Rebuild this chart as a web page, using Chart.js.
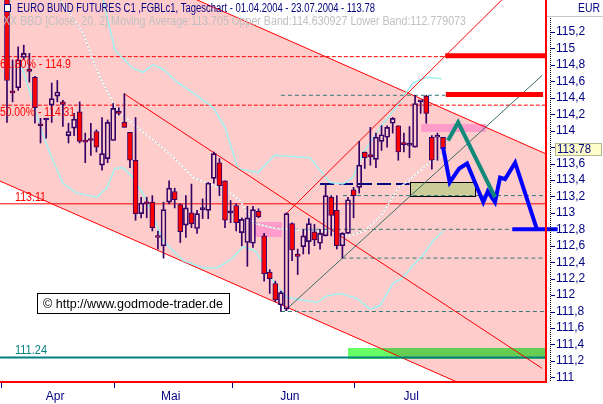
<!DOCTYPE html>
<html>
<head>
<meta charset="utf-8">
<script src="https://cdn.jsdelivr.net/npm/chart.js@4.4.1/dist/chart.umd.min.js"></script>
<style>
  body { margin: 0; background: #fff; }
  canvas { display: block; }
</style>
</head>
<body>
<canvas id="chart" width="603" height="404"></canvas>
<script>
// Daily candles 01.04.2004 - 23.07.2004, index 0 = first trading day
const opens  = [115.70,114.47,114.52,114.89,114.75,114.65,114.07,114.13,114.31,114.42,114.35,113.94,114.03,114.23,113.87,113.89,113.99,113.58,113.66,113.88,
                114.22,114.10,113.98,113.64,112.99,113.12,113.13,112.72,112.60,113.13,113.26,113.10,112.85,113.00,112.81,113.04,113.03,113.42,113.61,113.39,
                113.00,113.09,112.76,112.64,112.63,113.02,112.72,112.28,112.14,111.88,111.83,112.87,112.50,112.59,112.65,112.77,112.63,112.72,113.19,113.03,
                112.60,112.75,113.28,113.31,113.74,113.71,113.65,113.87,113.92,114.09,114.06,113.84,113.82,113.80,114.35,114.42,113.92,113.92,113.92];
const highs  = [115.80,114.86,115.02,115.04,114.94,114.66,114.15,114.15,114.58,114.61,114.37,114.09,114.21,114.35,113.97,114.09,114.01,114.16,114.13,114.33,
                114.28,114.45,113.98,114.16,113.19,113.19,113.21,112.78,113.13,113.39,113.30,113.11,113.21,113.35,113.03,113.17,113.37,113.74,113.66,113.39,
                113.15,113.11,112.94,113.08,113.08,113.05,112.75,112.31,112.17,112.05,113.00,112.88,112.56,112.80,112.93,112.86,112.80,113.36,113.21,113.21,
                112.76,113.19,113.31,113.87,113.74,114.04,113.97,114.06,114.06,114.16,114.06,113.97,114.05,114.43,114.36,114.43,113.94,113.97,113.92];
const lows   = [114.10,114.35,114.49,114.87,114.59,114.09,113.85,113.91,114.10,114.35,114.05,113.85,113.94,113.85,113.61,113.70,113.74,113.52,113.61,113.88,
                114.19,114.04,113.55,112.91,112.94,112.94,112.78,112.56,112.45,113.11,113.06,112.64,112.70,112.82,112.75,112.93,112.93,113.36,113.21,112.82,
                112.88,112.78,112.60,112.35,112.58,112.94,112.17,112.02,111.92,111.80,111.81,112.42,112.25,112.50,112.50,112.60,112.56,112.72,112.72,112.56,
                112.45,112.75,112.94,113.24,113.54,113.58,113.55,113.76,113.80,113.97,113.64,113.74,113.67,113.80,114.21,114.09,113.53,113.64,113.78];
const closes = [114.61,114.46,114.86,114.94,114.72,114.28,114.06,114.14,114.39,114.47,114.32,113.99,114.14,113.87,113.86,113.88,113.80,113.72,114.10,114.27,
                114.21,114.04,113.64,112.99,113.12,113.11,112.82,112.70,113.04,113.30,113.16,112.77,113.06,112.87,112.99,113.04,113.36,113.72,113.33,112.91,
                113.00,112.88,112.92,112.94,113.04,112.95,112.26,112.20,111.94,112.03,112.99,112.55,112.47,112.72,112.87,112.67,112.75,113.21,112.97,112.60,
                112.75,113.16,113.21,113.58,113.67,113.68,113.92,113.95,114.04,114.15,113.74,113.83,113.82,114.33,114.35,114.21,113.64,113.94,113.78];

// Bollinger band (Close, 20, 2)
const bbUpperIdx = [16.6,17.2,19.3,22.5,24.3,26.1,27.9,30.6,33.3,36.9,39,41.3,44.9,47.9,54.2,56,57.8,60.1,61.9,63.7,66.7,70.3,72.6,75.1,77.8];
const bbUpper    = [115.70,115.59,114.98,114.76,114.71,114.80,114.75,114.58,114.46,114.28,114.04,113.54,113.49,113.70,113.67,113.52,113.37,113.35,113.43,113.73,114.03,114.35,114.58,114.65,114.63];
const bbMidIdx   = [9.5,13.6,16.6,19.7,23.3,26.8,29.7,33.3,35.8,39.4,41.7,44,48,53,58,61,64,67,70,72,75,78];
const bbMid      = [115.59,115.19,114.65,114.25,114.04,113.85,113.68,113.43,113.36,113.27,113.15,112.88,112.81,112.79,112.78,112.72,112.78,112.97,113.30,113.40,113.58,113.705];
const bbLowerIdx = [2.3,4.7,6.3,8.2,10,12.5,16.1,17.9,19.3,20.8,22.5,25,27.9,31.5,35.1,37.6,40.4,42.2,44.4,45.8,47.6,50.1,55.5,57.2,59.6,62.6,64.9,66.7,69,70.8,72.6,74.4,76.2,78];
const bbLower    = [114.86,114.33,113.97,113.64,113.36,113.24,113.19,113.31,113.54,113.55,113.43,113.15,112.66,112.42,112.33,112.33,112.45,112.59,112.54,112.38,112.17,111.97,111.91,111.99,112.02,111.96,111.83,111.87,112.14,112.21,112.36,112.48,112.66,112.78];

// trend channel and trend lines (index, price)
const channelIdx   = [-2, 100];
const channelUpper = [116.67, 113.61];
const channelLower = [113.41, 110.36];
const downTrendIdx = [20.93, 95.7];
const downTrend    = [114.45, 111.11];
const upTrendIdx   = [50.1, 90];
const upTrend      = [113.00, 115.69];
const lowTrendIdx  = [49.55, 95.7];
const lowTrend     = [111.80, 114.67];

// horizontal levels
const fibLevels  = [114.9, 114.31];
const fibLabels  = ['61.80% - 114.9', '50.00% - 114.31'];
const supportLevel = 113.11;
const bottomLevel  = 111.24;
const tealLevels = [114.43, 113.21, 112.80, 112.45, 111.80];
const tealFrom   = [49, 60.1, 49, 60, 49];
const tealTo     = [78.4, 98, 98, 98, 98];
const navyLevel  = 113.35;
const navyFrom   = 56;
const navyTo     = 72;
const targetLevels = [114.91, 114.44];
const targetFrom   = [78.4, 78.5];
const targetTo     = [98, 95.9];

// zones: green, pink, pink, olive
const zoneFrom = [61, 74.1, 44.2, 72.1];
const zoneTo   = [98, 85.7, 49.2, 83.7];
const zoneLow  = [111.22, 113.98, 112.71, 113.21];
const zoneHigh = [111.36, 114.08, 112.89, 113.37];

// forecast paths
const tealPathIdx = [78.9, 80.7, 87.3];
const tealPath    = [113.88, 114.10, 113.19];
const bluePathIdx = [78, 79.2, 80.9, 82.3, 85.2, 86, 87.3, 88.2, 89.1, 90.9, 94.8];
const bluePath    = [113.80, 113.37, 113.54, 113.60, 113.13, 113.26, 113.13, 113.43, 113.41, 113.61, 112.80];
const blueFloorIdx = [90.4, 98.5];
const blueFloor    = 112.80;

// axes
const yTicks = [111, 111.2, 111.4, 111.6, 111.8, 112, 112.2, 112.4, 112.6, 112.8, 113, 113.2, 113.4, 113.6, 113.8, 114, 114.2, 114.4, 114.6, 114.8, 115, 115.2];
const monthNames = ['Apr', 'Mai', 'Jun', 'Jul'];
const monthMid   = [8.6, 29.3, 50.6, 72.3];
const monthStart = [-1.07, 19.1, 40.3, 62.1];

const titleText  = 'EURO BUND FUTURES C1 ,FGBLc1, Tageschart - 01.04.2004 - 23.07.2004 - 113.78';
const legendText = 'XX BBD [Close, 20, 2] Moving Average:113.705 Upper Band:114.630927 Lower Band:112.779073';
const copyText   = '\u00A9 http://www.godmode-trader.de';

const FONT = "'Liberation Sans', Arial, sans-serif";
const NAVY = '#000080';
const CANDLE = '#330066';
const RED = '#ff0000';
const TEAL = '#2e7a78';

const pts = (xs, ys) => xs.map((x, k) => ({ x, y: Array.isArray(ys) ? ys[k] : ys }));
const line = (data, color, width, dash, order, extra) => Object.assign({
    type: 'line', data, borderColor: color, borderWidth: width, borderDash: dash || [],
    pointRadius: 0, fill: false, tension: 0, order
}, extra || {});

const idx = opens.map((_, i) => i);
const upperWicks = idx.map(i => ({ x: i, y: [Math.max(opens[i], closes[i]), highs[i]] }));
const lowerWicks = idx.map(i => ({ x: i, y: [lows[i], Math.min(opens[i], closes[i])] }));
const bodies = idx.map(i => ({ x: i, y: [opens[i], closes[i]] }));
const bodyColors = idx.map(i => closes[i] < opens[i] ? RED : 'rgba(0,0,0,0)');

const datasets = [
    line(pts(channelIdx, channelUpper), RED, 1, [], 20, { fill: '+1', backgroundColor: '#ffcccc' }),
    line(pts(channelIdx, channelLower), RED, 1, [], 20)
];
fibLevels.forEach(v => datasets.push(line(pts([-2, 100], v), RED, 1, [4, 2], 15)));
datasets.push(line(pts([-2, 100], supportLevel), RED, 1, [], 15));
datasets.push(line(pts([-2, 100], bottomLevel), '#008080', 2, [], 15));
tealLevels.forEach((v, k) => datasets.push(line(pts([tealFrom[k], tealTo[k]], v), TEAL, 1, [4, 3], 15)));
datasets.push(line(pts([navyFrom, navyTo], navyLevel), NAVY, 2, [14, 5], 15));

datasets.push(line(pts(bbUpperIdx, bbUpper), '#a0f0f0', 1.5, [], 12));
datasets.push(line(pts(bbLowerIdx, bbLower), '#a0f0f0', 1.5, [], 12));
datasets.push(line(pts(bbMidIdx, bbMid), '#ffffff', 1.5, [], 12));
datasets.push(line(pts(bbMidIdx, bbMid), '#a8a8a8', 1, [2, 2], 11));

datasets.push(line(pts(downTrendIdx, downTrend), RED, 1, [], 10));
datasets.push(line(pts(upTrendIdx, upTrend), RED, 1, [], 10));
datasets.push(line(pts(lowTrendIdx, lowTrend), '#3a6e66', 1, [], 10));

datasets.push({ type: 'bar', data: upperWicks, backgroundColor: CANDLE, barThickness: 1, grouped: false, borderWidth: 0, order: 6 });
datasets.push({ type: 'bar', data: lowerWicks, backgroundColor: CANDLE, barThickness: 1, grouped: false, borderWidth: 0, order: 6 });
datasets.push({ type: 'bar', data: bodies, backgroundColor: bodyColors, borderColor: CANDLE, borderWidth: 1,
    borderSkipped: false, barThickness: 5, minBarLength: 2, grouped: false, order: 5 });

targetLevels.forEach((v, k) => datasets.push(line(pts([targetFrom[k], targetTo[k]], v), RED, 5, [], 2)));
datasets.push(line(pts(tealPathIdx, tealPath), '#0f8a7a', 4, [], 1));
datasets.push(line(pts(bluePathIdx, bluePath), '#0000ff', 4, [], 1));
datasets.push(line(pts(blueFloorIdx, blueFloor), '#0000ff', 4, [], 1, { clip: { left: 0, top: 0, right: 12, bottom: 0 } }));

const fmtTick = v => (Math.round(v * 10) / 10).toString().replace('.', ',');

// draw text squeezed to the width it takes in the original (narrow face)
function fitText(ctx, text, x, y, width) {
    const w = ctx.measureText(text).width;
    ctx.save();
    ctx.translate(x, y);
    ctx.scale(width / w, 1);
    ctx.fillText(text, 0, 0);
    ctx.restore();
}

const decor = {
    id: 'decor',
    beforeDatasetsDraw(chart) {
        const { ctx, chartArea: a, scales: { x, y } } = chart;
        const fills = ['#66ff66', '#ff9ccc', '#ff9ccc', '#cccc99'];
        ctx.save();
        ctx.beginPath();
        ctx.rect(a.left, a.top, a.right - a.left, a.bottom - a.top);
        ctx.clip();
        zoneFrom.forEach((f, k) => {
            const x0 = Math.round(x.getPixelForValue(f));
            const x1 = Math.round(x.getPixelForValue(zoneTo[k]));
            const y0 = Math.round(y.getPixelForValue(zoneHigh[k]));
            const y1 = Math.round(y.getPixelForValue(zoneLow[k]));
            ctx.globalCompositeOperation = k === 0 ? 'multiply' : 'source-over';
            ctx.fillStyle = fills[k];
            ctx.fillRect(x0, y0, x1 - x0, y1 - y0);
            if (k === 3) {
                ctx.strokeStyle = '#000';
                ctx.lineWidth = 1;
                ctx.strokeRect(x0 + 0.5, y0 + 0.5, x1 - x0, y1 - y0);
            }
        });
        ctx.restore();
    },
    afterDraw(chart) {
        const { ctx, chartArea: a, scales: { x, y } } = chart;
        ctx.save();
        // frame
        ctx.fillStyle = RED;
        ctx.fillRect(a.right - 2, 0, 2, a.bottom + 1);
        ctx.fillRect(0, a.bottom - 1, a.right, 2);

        // month boundaries
        ctx.fillStyle = NAVY;
        monthStart.forEach(m => ctx.fillRect(Math.round(x.getPixelForValue(m)), a.bottom + 1, 1, 5));

        // right panel
        ctx.fillStyle = '#c8c8c8';
        ctx.fillRect(a.right, 16, 603 - a.right, 1);
        ctx.fillStyle = '#000';
        for (let yy = 18; yy < a.bottom; yy += 2) ctx.fillRect(a.right + 3, yy, 1, 1);
        ctx.fillStyle = NAVY;
        yTicks.forEach(t => ctx.fillRect(a.right + 4, Math.round(y.getPixelForValue(t)), 4, 1));
        ctx.font = `12px ${FONT}`;
        ctx.textBaseline = 'middle';
        ctx.textAlign = 'left';
        fitText(ctx, 'EUR', 578, 9, 22);

        const last = closes[closes.length - 1];
        const py = Math.round(y.getPixelForValue(last));
        ctx.fillStyle = '#ffffcc';
        ctx.fillRect(a.right + 8, py - 6, 47, 13);
        ctx.strokeStyle = '#b8b890';
        ctx.lineWidth = 1;
        ctx.strokeRect(a.right + 8.5, py - 5.5, 46, 12);
        ctx.fillStyle = NAVY;
        fitText(ctx, last.toFixed(2), a.right + 10, py + 1, 34);

        // series header
        ctx.fillStyle = '#fff';
        ctx.fillRect(4, 4, 6, 7);
        ctx.strokeStyle = NAVY;
        ctx.strokeRect(4.5, 4.5, 6, 7);
        ctx.fillStyle = NAVY;
        fitText(ctx, titleText, 17, 9, 358);
        ctx.fillStyle = '#c0c0c0';
        fitText(ctx, legendText, 3, 22, 463);

        // level labels
        ctx.fillStyle = RED;
        const fibW = [71, 75];
        fibLevels.forEach((v, k) => fitText(ctx, fibLabels[k], 0, y.getPixelForValue(v) + 8, fibW[k]));
        fitText(ctx, supportLevel.toFixed(2), 15, y.getPixelForValue(supportLevel) - 6, 31);
        ctx.fillStyle = '#008080';
        fitText(ctx, bottomLevel.toFixed(2), 15, y.getPixelForValue(bottomLevel) - 7, 32);

        // copyright box
        ctx.fillStyle = '#fff';
        ctx.fillRect(37, 293, 192, 20);
        ctx.strokeStyle = '#000';
        ctx.strokeRect(37.5, 293.5, 192, 20);
        ctx.fillStyle = '#000';
        ctx.font = "13px 'Liberation Sans', Arial, sans-serif";
        fitText(ctx, copyText, 43, 304, 180);
        ctx.restore();
    }
};

new Chart(document.getElementById('chart'), {
    type: 'line',
    data: { datasets },
    options: {
        responsive: false,
        devicePixelRatio: 1,
        animation: false,
        layout: { padding: 0 },
        plugins: {
            legend: { display: false },
            tooltip: { enabled: false },
            filler: { drawTime: 'beforeDatasetsDraw' }
        },
        scales: {
            x: {
                type: 'linear', min: -1.25, max: 96.6, offset: false,
                afterBuildTicks: ax => { ax.ticks = monthMid.map(v => ({ value: v })); },
                afterFit: ax => { ax.height = 22; ax.paddingLeft = 0; ax.paddingRight = 0; },
                grid: { display: false, drawTicks: false },
                border: { display: false },
                ticks: { autoSkip: false, maxRotation: 0, padding: 7, color: NAVY,
                    font: { family: FONT, size: 12 }, callback: (v, i) => monthNames[i] }
            },
            y: {
                type: 'linear', position: 'right', min: 110.943, max: 115.589,
                afterBuildTicks: ax => { ax.ticks = yTicks.map(v => ({ value: v })); },
                afterFit: ax => { ax.width = 56; ax.paddingTop = 0; ax.paddingBottom = 0; },
                grid: { display: false, drawTicks: false },
                border: { display: false },
                ticks: { autoSkip: false, padding: 9, color: NAVY, font: { family: FONT, size: 12 },
                    callback: v => Math.abs(v - 113.8) < 1e-6 ? '' : fmtTick(v) }
            }
        }
    },
    plugins: [decor]
});
</script>
</body>
</html>
